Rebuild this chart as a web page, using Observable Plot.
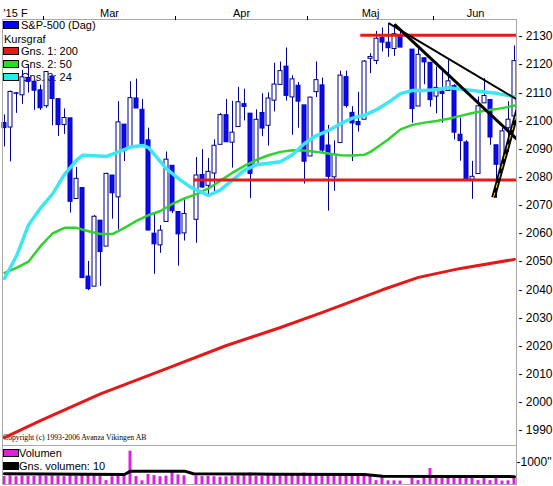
<!DOCTYPE html>
<html><head><meta charset="utf-8">
<script src="https://cdn.jsdelivr.net/npm/d3@7"></script>
<script src="https://cdn.jsdelivr.net/npm/@observablehq/plot@0.6"></script>
<style>
body{margin:0;background:#fff;}
#wrap{position:relative;width:553px;height:486px;overflow:hidden;font-family:"Liberation Sans",Arial,sans-serif;background:#fff;}
#under{position:absolute;left:0;top:0;width:553px;height:486px;z-index:0;}
#pricebox{position:absolute;left:0;top:0;z-index:1;}
#volbox{position:absolute;left:0;top:445px;z-index:2;}
#pricebox svg,#volbox svg{display:block;}
.lg{position:absolute;font-size:11px;line-height:12px;white-space:nowrap;color:#000;}
.sw{position:absolute;width:14px;height:6px;border:1px solid #000;}
.cp{position:absolute;font-family:"Liberation Serif","Times New Roman",serif;font-size:7.7px;line-height:8px;white-space:nowrap;color:#000;}
</style></head>
<body><div id="wrap"><div id="under"></div><div id="pricebox"></div><div id="volbox"></div></div>
<script>
// ---------- data ----------
const dates = ["2015-02-19","2015-02-20","2015-02-23","2015-02-24","2015-02-25","2015-02-26","2015-02-27",
"2015-03-02","2015-03-03","2015-03-04","2015-03-05","2015-03-06","2015-03-09","2015-03-10","2015-03-11","2015-03-12","2015-03-13",
"2015-03-16","2015-03-17","2015-03-18","2015-03-19","2015-03-20","2015-03-23","2015-03-24","2015-03-25","2015-03-26","2015-03-27","2015-03-30","2015-03-31",
"2015-04-01","2015-04-02","2015-04-06","2015-04-07","2015-04-08","2015-04-09","2015-04-10","2015-04-13","2015-04-14","2015-04-15","2015-04-16","2015-04-17",
"2015-04-20","2015-04-21","2015-04-22","2015-04-23","2015-04-24","2015-04-27","2015-04-28","2015-04-29","2015-04-30",
"2015-05-01","2015-05-04","2015-05-05","2015-05-06","2015-05-07","2015-05-08","2015-05-11","2015-05-12","2015-05-13","2015-05-14","2015-05-15",
"2015-05-18","2015-05-19","2015-05-20","2015-05-21","2015-05-22","2015-05-26","2015-05-27","2015-05-28","2015-05-29",
"2015-06-01","2015-06-02","2015-06-03","2015-06-04","2015-06-05","2015-06-08","2015-06-09","2015-06-10","2015-06-11","2015-06-12",
"2015-06-15","2015-06-16","2015-06-17","2015-06-18"];

const open = [2099.25,2097.65,2109.83,2109.10,2115.30,2113.91,2110.88,
2105.23,2115.76,2107.72,2098.54,2100.91,2072.25,2076.14,2044.69,2041.10,2064.56,
2055.35,2080.59,2072.84,2098.69,2090.32,2107.99,2103.94,2093.10,2059.94,2055.78,2064.11,2084.05,
2067.63,2060.03,2064.87,2080.79,2076.94,2081.29,2091.51,2102.03,2092.28,2097.82,2105.96,2102.58,
2084.11,2102.82,2098.27,2107.21,2112.80,2119.29,2108.35,2112.49,2105.52,
2087.38,2110.23,2112.63,2091.26,2079.96,2092.13,2115.56,2102.87,2099.62,2100.43,2122.07,
2121.30,2129.45,2127.79,2125.55,2130.36,2125.34,2105.13,2122.27,2120.66,
2108.64,2110.41,2110.64,2112.35,2095.09,2092.34,2079.07,2081.12,2106.24,2107.43,
2091.34,2084.26,2097.40,2101.58];

const high = [2102.13,2110.61,2110.05,2117.94,2119.59,2113.91,2112.74,
2117.52,2115.76,2107.72,2104.25,2100.91,2083.49,2076.14,2050.08,2066.41,2064.56,
2081.41,2080.59,2106.85,2098.69,2113.92,2114.86,2107.63,2097.43,2067.15,2062.83,2088.97,2084.05,
2067.63,2072.17,2086.99,2089.81,2086.69,2093.31,2102.61,2107.65,2107.00,2111.91,2111.30,2102.58,
2103.94,2109.64,2109.98,2120.49,2120.92,2125.92,2116.04,2113.65,2105.52,
2108.41,2120.95,2115.24,2098.42,2092.90,2117.66,2117.69,2105.06,2110.19,2121.45,2123.89,
2131.78,2133.02,2134.72,2134.28,2132.15,2125.34,2126.22,2122.27,2120.66,
2119.15,2117.59,2121.92,2112.89,2100.99,2093.01,2085.62,2108.50,2115.02,2107.43,
2091.34,2097.40,2106.79,2126.65];

const low = [2090.79,2085.44,2102.68,2105.87,2109.89,2103.76,2103.75,
2104.50,2098.26,2094.49,2095.22,2067.27,2072.21,2044.16,2039.69,2041.10,2041.17,
2055.35,2065.08,2061.23,2085.56,2090.32,2104.42,2091.50,2061.05,2045.50,2052.96,2064.11,2067.04,
2048.38,2057.32,2056.52,2076.10,2073.30,2074.29,2091.51,2092.33,2083.24,2097.82,2100.02,2072.37,
2084.11,2094.38,2091.05,2103.19,2112.80,2107.04,2094.89,2097.41,2077.59,
2087.38,2108.29,2088.46,2067.93,2074.99,2092.13,2104.58,2085.57,2096.04,2100.43,2116.81,
2120.01,2124.50,2122.59,2122.95,2126.06,2099.18,2105.13,2112.86,2104.89,
2102.54,2099.14,2110.64,2093.23,2085.67,2079.11,2072.14,2081.12,2106.24,2091.33,
2072.49,2082.10,2088.86,2101.58];

const close = [2097.45,2110.30,2109.66,2115.48,2113.86,2110.74,2104.50,
2117.39,2107.78,2098.53,2101.04,2071.26,2079.43,2044.16,2040.24,2065.95,2053.40,
2081.19,2074.28,2099.50,2089.27,2108.10,2104.42,2091.50,2061.05,2056.15,2061.02,2086.24,2067.89,
2059.69,2066.96,2080.62,2076.33,2081.90,2091.18,2102.06,2092.43,2095.84,2106.63,2104.99,2081.18,
2100.40,2097.29,2107.96,2112.93,2117.69,2108.92,2114.76,2106.85,2085.51,
2108.29,2114.49,2089.46,2080.15,2088.00,2116.10,2105.33,2099.12,2098.48,2121.10,2122.73,
2129.20,2127.83,2125.85,2130.82,2126.06,2104.20,2123.48,2120.79,2107.39,
2111.73,2109.60,2114.07,2095.84,2092.83,2079.28,2080.15,2105.20,2108.86,2094.11,
2084.43,2096.29,2100.44,2121.24];

const volume = [350,380,340,370,360,350,380,360,370,360,340,400,370,420,400,380,350,170,340,410,350,1460,350,160,440,390,340,370,610,420,380,
380,350,360,340,320,330,360,380,390,500,350,360,400,380,370,430,410,440,500,400,380,420,400,380,370,350,400,370,380,350,170,350,160,160,150,
360,170,340,700,360,350,380,370,350,360,350,170,350,170,340,150,160,340];

// moving averages, at weekday positions
const ma24Day = [0,2,4,6,8,10,12,13,15,17,19,21,23,24,25,27,29,31,33,34,36,38,40,42,44,46,48,50,52,54,56,58,60,62,64,66,68,70,72,74,76,78,80,82,84,85];
const ma24Val = [2044,2052,2063,2069,2074,2081,2086,2087.8,2087.6,2087.4,2089,2090.7,2091.3,2090.5,2088,2083,2079.5,2076.5,2074.5,2073.5,2075.5,2079,2082.5,2084.4,2085,2085.5,2088,2092,2094.8,2096.6,2099,2101,2102,2104,2106.6,2109.7,2110.8,2110.8,2111.2,2111.8,2111.3,2110.8,2110.3,2109.8,2109,2108.5];
const ma50Day = [0,2,4,6,8,10,12,14,16,18,20,22,24,26,28,30,32,34,36,38,40,42,44,46,48,50,52,54,56,58,60,61,62,64,66,68,70,72,74,76,78,80,82,84,85];
const ma50Val = [2046,2047.8,2050,2055.5,2060,2062,2062,2060.8,2059.8,2059.8,2062,2064.5,2066.5,2068,2070.5,2072.5,2074,2076,2078.8,2081.6,2084,2086.2,2087.8,2089,2089.6,2089.5,2089,2088.4,2087.8,2087.7,2088,2089,2090.5,2093.5,2097,2098.6,2099.4,2100,2100.8,2101.8,2102.8,2103.6,2104.2,2105,2105.5];
const ma200Day = [0,6,16,27,37,46,53,63,69,76,85];
const ma200Val = [1987.5,1993.5,2003,2012,2020.2,2026.6,2032,2040,2044.4,2047.6,2050.8];

const volAvgDay = [0,20,21,30,31.5,45,60,63,75,85];
const volAvgVal = [470,440,585,585,470,455,440,360,355,345];

// horizontal levels and trend lines
const levelPrice = [2130.4, 2079];
const levelFromDay = [59.3, 31.45];
const trendFromDay = [64, 65, 81.5];
const trendFromPrice = [2134.72, 2134.28, 2072.8];
const trendToDay = [85.6, 85.7, 85.5];
const trendToPrice = [2107.4, 2092.9, 2103.7];

const yTicks = [1990,2000,2010,2020,2030,2040,2050,2060,2070,2080,2090,2100,2110,2120,2130];
const volTicks = [1000];
const monthNames = ["'15 F","Mar","Apr","Maj","Jun"];

const legendNames = ["S&P-500 (Dag)","Kursgraf","Gns. 1: 200","Gns. 2: 50","Gns. 3: 24"];
const legendColors = ["#0000ff",null,"#e81818","#22dd22","#22eeee"];
const volLegendNames = ["Volumen","Gns. volumen: 10"];
const volLegendColors = ["#e020e0","#000000"];
const copyright = "Copyright (c) 1993-2006 Avanza Vikingen AB";

// ---------- derived ----------
const start = new Date(dates[0] + "T00:00:00Z");
function weekdayIndex(ds){
  const d = new Date(ds + "T00:00:00Z"); let n = 0;
  for (let t = new Date(start); t < d; t.setUTCDate(t.getUTCDate()+1)) { const w = t.getUTCDay(); if (w !== 0 && w !== 6) n++; }
  return n;
}
const candles = dates.map((d,i)=>({date:d, day:weekdayIndex(d), o:open[i], h:high[i], l:low[i], c:close[i], v:volume[i]}));
const lastDay = candles[candles.length-1].day;
const xDomain = [-1/3, lastDay + 1/3];

const boundaries = [];
for (let i=1;i<candles.length;i++) if (candles[i].date.slice(5,7)!==candles[i-1].date.slice(5,7)) boundaries.push((candles[i-1].day+candles[i].day)/2);
const edges = [...boundaries, lastDay + 0.5];
const monthLabels = boundaries.map((b,i)=>({x:(b+edges[i+1])/2, t:monthNames[i+1]}));

const pts = (a,b)=>a.map((x,i)=>({x, y:b[i]}));
const levels = levelPrice.map((p,i)=>({x1:levelFromDay[i], x2:xDomain[1], p}));
const trends = trendFromDay.map((x,i)=>({x1:x, y1:trendFromPrice[i], x2:trendToDay[i], y2:trendToPrice[i]}));

// y domain so that 2130 -> 36px and 1990 -> 430px with frame 19..445
const k = (430-36)/(2130-1990);
const yDomain = [1990 - (445-430)/k, 2130 + (36-19)/k];

const FONT = '"Liberation Sans", Arial, sans-serif';
const blue = "#0a0af0", navy = "#00008b";

const price = Plot.plot({
  width:553, height:446, marginTop:19, marginBottom:1, marginLeft:2, marginRight:37,
  style:{background:"transparent", fontFamily:FONT, fontSize:"11px", color:"#000"},
  x:{domain:xDomain, axis:null},
  y:{domain:yDomain, axis:null},
  marks:[
    Plot.ruleX(candles,{x:"day", y1:"l", y2:"h", stroke:navy, strokeWidth:1}),
    Plot.rect(candles,{x1:d=>d.day-1/3, x2:d=>d.day+1/3, y1:"o", y2:"c",
      fill:d=>d.c<d.o?blue:"#ffffff", stroke:d=>d.c<d.o?"#0000c8":navy, strokeWidth:1}),
    Plot.line(pts(ma200Day,ma200Val),{x:"x",y:"y",stroke:"#e41818",strokeWidth:3}),
    Plot.line(pts(ma50Day,ma50Val),{x:"x",y:"y",stroke:"#2fd22f",strokeWidth:2.5}),
    Plot.line(pts(ma24Day,ma24Val),{x:"x",y:"y",stroke:"#3ce6f2",strokeWidth:3.5}),
    Plot.link(levels,{x1:"x1",x2:"x2",y1:"p",y2:"p",stroke:"#e51a1a",strokeWidth:3,clip:true}),
    Plot.link(trends.slice(0,1),{x1:"x1",y1:"y1",x2:"x2",y2:"y2",stroke:"#000",strokeWidth:2,clip:true}),
    Plot.link(trends.slice(1,2),{x1:"x1",y1:"y1",x2:"x2",y2:"y2",stroke:"#000",strokeWidth:3,clip:true}),
    Plot.link(trends.slice(2),{x1:"x1",y1:"y1",x2:"x2",y2:"y2",stroke:"#000",strokeWidth:4.5,clip:true}),
    Plot.link(trends.slice(2),{x1:"x1",y1:"y1",x2:"x2",y2:"y2",stroke:"#f0e020",strokeWidth:1,strokeDasharray:"5,5",clip:true}),
    Plot.frame({stroke:"#a9a9a9"}),
    Plot.axisY({anchor:"right", ticks:yTicks, tickSize:0, tickPadding:2, tickFormat:d=>"- "+d, label:null, fontSize:12, fontFamily:FONT}),
    Plot.axisX({anchor:"top", ticks:boundaries, tickSize:4, tickFormat:()=>"", label:null}),
    Plot.text(monthLabels,{x:"x", text:"t", frameAnchor:"top", dy:-10, fontSize:11}),
    Plot.text([monthNames[0]],{text:d=>d, frameAnchor:"top-left", dx:1, dy:-10, textAnchor:"start", fontSize:11})
  ]
});
document.getElementById("pricebox").appendChild(price);

const vk = (39 - 16.2)/1000;
const vol = Plot.plot({
  width:553, height:41, marginTop:0, marginBottom:2, marginLeft:2, marginRight:37,
  style:{background:"transparent", fontFamily:FONT, fontSize:"12px", color:"#000"},
  x:{domain:xDomain, axis:null},
  y:{domain:[0, 39/vk], axis:null},
  marks:[
    Plot.rect(candles,{x1:d=>d.day-0.25, x2:d=>d.day+0.25, y1:0, y2:"v", fill:"#e020e0"}),
    Plot.line(pts(volAvgDay,volAvgVal),{x:"x",y:"y",stroke:"#000",strokeWidth:3}),
    Plot.frame({stroke:"#a9a9a9"}),
    Plot.axisY({anchor:"right", ticks:volTicks, tickSize:0, tickPadding:0, tickFormat:d=>"-"+d+"\"", label:null, fontSize:12, fontFamily:FONT})
  ]
});
document.getElementById("volbox").appendChild(vol);

// legends and copyright (drawn beneath the charts)
const under = document.getElementById("under");
function add(cls, css, txt){ const e=document.createElement("div"); e.className=cls; Object.assign(e.style, css); if (txt!=null) e.textContent=txt; under.appendChild(e); }
const legendCenters = [25, 38.5, 51, 64, 77];
legendNames.forEach((n,i)=>{
  const c = legendCenters[i];
  if (legendColors[i]) { add("sw",{left:"3px", top:(c-4)+"px", background:legendColors[i]}); add("lg",{left:"21px", top:(c-5.8)+"px"}, n); }
  else add("lg",{left:"4px", top:(c-5.8)+"px"}, n);
});
const volCenters = [452.3, 465.7];
volLegendNames.forEach((n,i)=>{
  const c = volCenters[i];
  add("sw",{left:"3px", top:(c-3.5)+"px", background:volLegendColors[i]});
  add("lg",{left:"19px", top:(c-5.8)+"px"}, n);
});
add("cp",{left:"3px", top:"434px"}, copyright);
</script></body></html>
